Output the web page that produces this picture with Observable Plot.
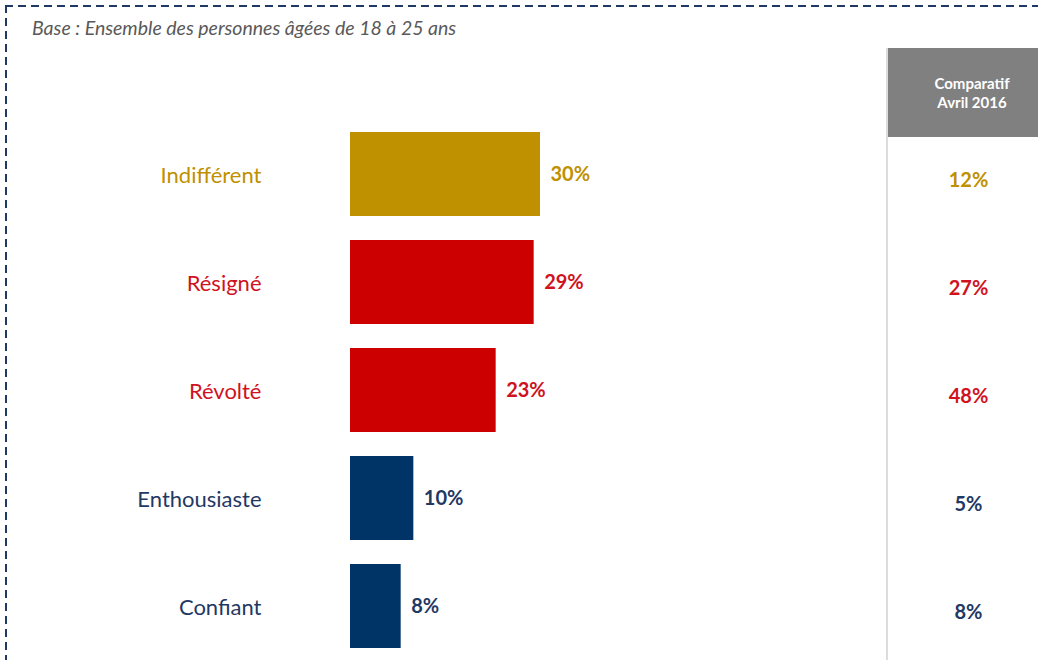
<!DOCTYPE html>
<html><head><meta charset="utf-8">
<script src="https://cdn.jsdelivr.net/npm/d3@7"></script>
<script src="https://cdn.jsdelivr.net/npm/@observablehq/plot@0.6"></script>
<style>
html,body{margin:0;padding:0;background:#fff;}
body{width:1038px;height:660px;position:relative;overflow:hidden;font-family:Lato,"Noto Sans",sans-serif;}
#btop{position:absolute;left:5px;top:5px;width:1033px;height:2px;background:repeating-linear-gradient(to right,#1F3864 0 8px,transparent 8px 13px);}
#bleft{position:absolute;left:5px;top:5px;width:2px;height:655px;background:repeating-linear-gradient(to bottom,#1F3864 0 8px,transparent 8px 13px);}
#sub{position:absolute;left:32px;top:16px;font-style:italic;font-size:19.5px;color:#595959;}
#vline{position:absolute;left:886px;top:48px;width:2px;height:612px;background:#dcdcdc;}
#head{position:absolute;left:888px;top:48px;width:168px;height:89px;background:#808080;color:#fff;font-weight:bold;font-size:15px;line-height:19px;display:flex;align-items:center;justify-content:center;text-align:center;}
#chart{position:absolute;left:0;top:48px;}
</style></head>
<body>
<div id="btop"></div><div id="bleft"></div>
<div id="sub">Base : Ensemble des personnes âgées de 18 à 25 ans</div>
<div id="vline"></div>
<div id="head"><div>Comparatif<br>Avril 2016</div></div>
<div id="chart"></div>
<script>
const categories = ["Indifférent", "Résigné", "Révolté", "Enthousiaste", "Confiant"];
const values2019 = [30, 29, 23, 10, 8];
const valuesAvril2016 = [12, 27, 48, 5, 8];
const barColors = ["#BF9000", "#CC0000", "#CC0000", "#003366", "#003366"];
const textColors = ["#BF9000", "#D0121E", "#D0121E", "#1F3864", "#1F3864"];

const data = categories.map((c, i) => ({
  cat: c, v: values2019[i], prev: valuesAvril2016[i], bar: barColors[i], txt: textColors[i]
}));

const chart = Plot.plot({
  width: 1038,
  height: 612,
  marginLeft: 350,
  marginRight: 0,
  marginTop: 72,
  marginBottom: 0,
  style: {fontFamily: "Lato, 'Noto Sans', sans-serif", background: "transparent", overflow: "visible"},
  x: {domain: [0, 30], range: [350, 540], axis: null},
  y: {domain: categories, range: [72, 612], paddingInner: 0.22, paddingOuter: 0.11, axis: null},
  marks: [
    Plot.barX(data, {y: "cat", x: "v", fill: d => d.bar}),
    Plot.text(data, {y: "cat", x: "v", text: d => d.v + "%", fill: d => d.txt, dx: 10, textAnchor: "start", fontWeight: "bold", fontSize: 20}),
    Plot.text(data, {y: "cat", text: "cat", frameAnchor: "left", dx: -89, dy: 1, textAnchor: "end", fill: d => d.txt, fontSize: 22}),
    Plot.text(data, {y: "cat", text: d => d.prev + "%", frameAnchor: "right", dx: -70, dy: 6, textAnchor: "middle", fill: d => d.txt, fontWeight: "bold", fontSize: 20})
  ]
});
document.getElementById("chart").appendChild(chart);
</script>
</body></html>
